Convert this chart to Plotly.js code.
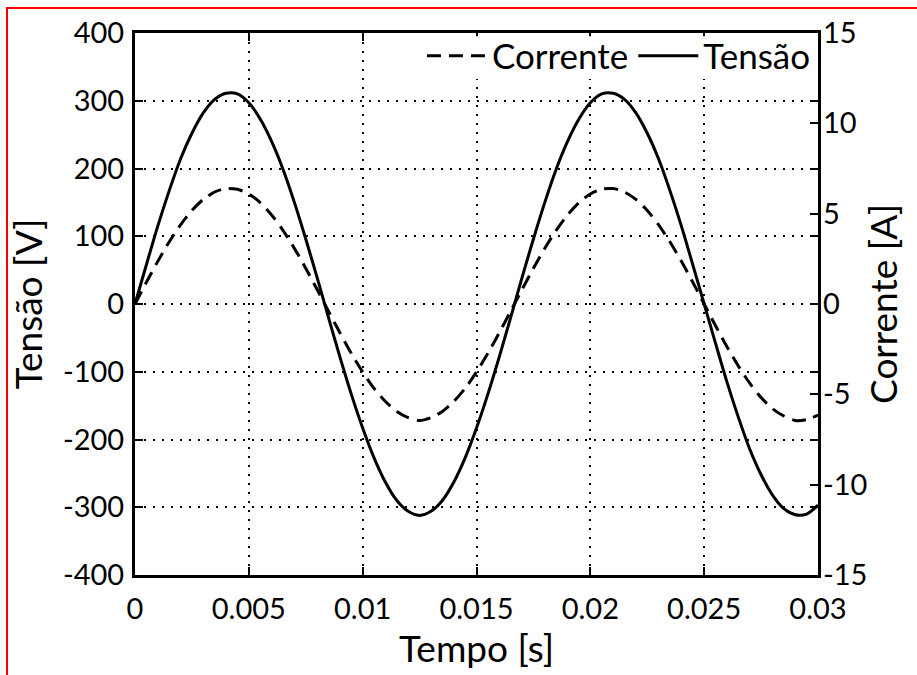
<!DOCTYPE html>
<html>
<head>
<meta charset="utf-8">
<script src="https://cdn.plot.ly/plotly-3.0.1.min.js"></script>
<style>
html,body{margin:0;padding:0;background:#fff;overflow:hidden;}
#chart{width:917px;height:675px;position:absolute;left:0;top:0;}
#frame{position:absolute;left:6px;top:7px;width:930px;height:700px;border:2px solid #ff0000;pointer-events:none;box-sizing:border-box;}
</style>
</head>
<body>
<div id="chart"></div>
<div id="frame"></div>
<script>
// Time [s]
const tempo = [0,0.0005,0.001,0.0015,0.002,0.0025,0.003,0.0035,0.004,0.0045,
  0.005,0.0055,0.006,0.0065,0.007,0.0075,0.008,0.0085,0.009,0.0095,
  0.010,0.0105,0.011,0.0115,0.012,0.0125,0.013,0.0135,0.014,0.0145,
  0.015,0.0155,0.016,0.0165,0.017,0.0175,0.018,0.0185,0.019,0.0195,
  0.020,0.0205,0.021,0.0215,0.022,0.0225,0.023,0.0235,0.024,0.0245,
  0.025,0.0255,0.026,0.0265,0.027,0.0275,0.028,0.0285,0.029,0.0295,0.030];
// Voltage [V]
const tensao = [0,58,115,167,214,252,282,302,311,310,
  297,273,240,199,150,96,39,-20,-78,-133,
  -183,-227,-263,-290,-306,-312,-306,-290,-263,-227,
  -183,-133,-78,-20,39,96,150,199,240,273,
  297,310,311,302,282,252,214,167,115,58,
  0,-58,-115,-167,-214,-252,-282,-302,-311,-310,-297];
// Current [A]
const corrente = [0,1.20,2.36,3.43,4.38,5.18,5.79,6.20,6.39,6.35,
  6.09,5.61,4.93,4.08,3.08,1.98,0.80,-0.40,-1.59,-2.73,
  -3.76,-4.67,-5.40,-5.95,-6.29,-6.45,-6.29,-5.95,-5.40,-4.67,
  -3.76,-2.73,-1.59,-0.40,0.80,1.98,3.08,4.08,4.93,5.61,
  6.09,6.35,6.39,6.20,5.79,5.18,4.38,3.43,2.36,1.20,
  0,-1.20,-2.36,-3.43,-4.38,-5.18,-5.79,-6.20,-6.45,-6.40,-6.15];
const xTicks = [0,0.005,0.01,0.015,0.02,0.025,0.03];
const xTickText = ['0','0.005','0.01','0.015','0.02','0.025','0.03'];
const yTicks = [-400,-300,-200,-100,0,100,200,300,400];
const yTickText = ['-400','-300','-200','-100','0','100','200','300','400'];
const y2Ticks = [-15,-10,-5,0,5,10,15];
const y2TickText = ['-15','-10','-5','0','5','10','15'];

const FONT = 'Lato, "Open Sans", sans-serif';
const GRID = {showgrid: true, gridcolor: '#000', gridwidth: 2, griddash: '2px,7px'};

const traces = [
  {x: tempo, y: corrente, yaxis: 'y2', name: 'Corrente', type: 'scatter', mode: 'lines',
   line: {color: '#000', width: 3, dash: '14px,8px', shape: 'spline', smoothing: 0.8}},
  {x: tempo, y: tensao, yaxis: 'y', name: 'Tensão', type: 'scatter', mode: 'lines',
   line: {color: '#000', width: 3, shape: 'spline', smoothing: 0.8}}
];

const layout = {
  width: 917, height: 675,
  margin: {l: 135, r: 99, t: 33, b: 100},
  paper_bgcolor: '#fff', plot_bgcolor: '#fff',
  font: {family: FONT, color: '#000', size: 29},
  showlegend: true,
  legend: {orientation: 'h', x: 0.997, xanchor: 'right', y: 1.012, yanchor: 'top',
    bgcolor: 'rgba(255,255,255,0)', borderwidth: 0, font: {size: 35, family: FONT, color: '#000'},
    traceorder: 'normal', itemwidth: 60, tracegroupgap: 0},
  // white band hiding the grid behind the legend (no trace reaches this band)
  shapes: [{type: 'rect', xref: 'paper', yref: 'paper', x0: 0.35, x1: 0.993, y0: 0.915, y1: 0.994,
    layer: 'above', fillcolor: '#fff', line: {width: 0}}],
  xaxis: {
    range: [0, 0.03], tickvals: xTicks, ticktext: xTickText,
    ticks: 'inside', ticklen: 8, tickwidth: 2, tickcolor: '#000',
    showline: true, linewidth: 3, linecolor: '#000', mirror: 'ticks',
    ...GRID, zeroline: false, tickfont: {size: 29, family: FONT},
    ticklabelstandoff: 6,
    title: {text: 'Tempo [s]', font: {size: 37, family: FONT}, standoff: 0}
  },
  yaxis: {
    range: [-400, 400], tickvals: yTicks, ticktext: yTickText,
    ticks: 'inside', ticklen: 8, tickwidth: 2, tickcolor: '#000',
    showline: true, linewidth: 3, linecolor: '#000', mirror: 'ticks',
    ...GRID, zeroline: false, tickfont: {size: 29, family: FONT},
    ticklabelstandoff: 2,
    title: {text: 'Tensão [V]', font: {size: 37, family: FONT}, standoff: 10}
  },
  yaxis2: {
    range: [-15, 15], tickvals: y2Ticks, ticktext: y2TickText, overlaying: 'y', side: 'right',
    ticks: 'inside', ticklen: 8, tickwidth: 2, tickcolor: '#000',
    showline: false, showgrid: false, zeroline: false,
    tickfont: {size: 29, family: FONT},
    ticklabelstandoff: 4,
    title: {text: 'Corrente [A]', font: {size: 37, family: FONT}, standoff: 4}
  }
};

Plotly.newPlot('chart', traces, layout, {displayModeBar: false, staticPlot: true});
</script>
</body>
</html>
